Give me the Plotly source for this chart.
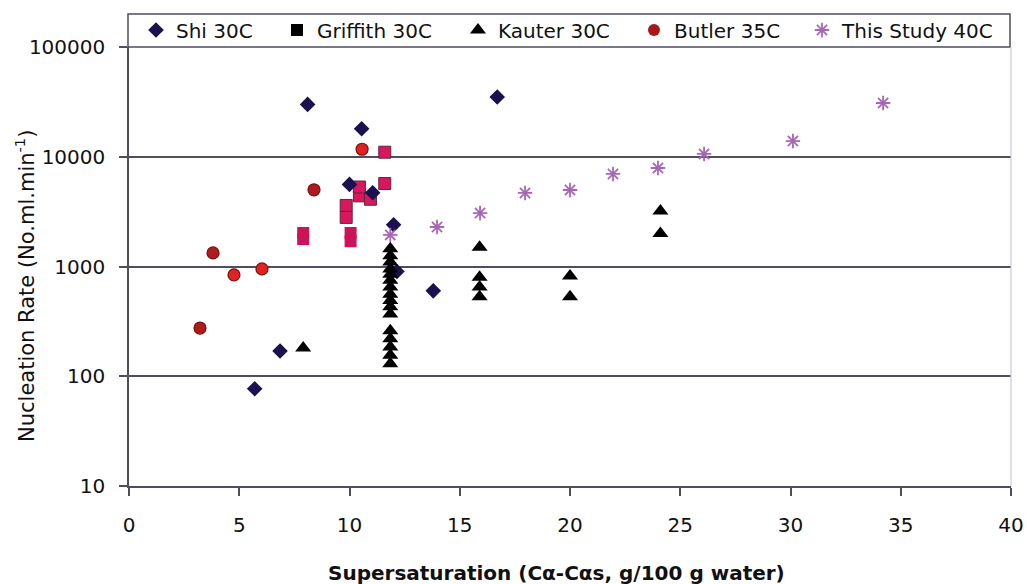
import plotly.graph_objects as go

# ---------------- data ----------------
shi_x = [5.7, 6.85, 8.1, 10.0, 10.55, 11.05, 12.0, 12.15, 13.8, 16.7]
shi_y = [77, 170, 30000, 5600, 18000, 4700, 2400, 900, 600, 35000]

griffith_x = [9.85, 9.85, 10.45, 10.45, 10.95, 11.6, 11.6]
griffith_y = [2800, 3600, 4400, 5300, 4100, 5700, 11000]
griffith2_x = [7.9, 7.9, 10.05, 10.05]
griffith2_y = [1780, 2020, 1700, 2020]

kauter_x = [7.9] + [11.85] * 16 + [15.9, 15.9, 15.9, 15.9, 20.0, 20.0, 24.1, 24.1]
kauter_y = [181, 1450, 1250, 1100, 950, 850, 750, 650, 560, 490, 430, 370, 260, 220, 185, 155, 130,
            1500, 800, 650, 530, 820, 530, 3200, 2000]

butler_x = [3.22, 3.81, 4.76, 6.03, 8.39, 10.57]
butler_y = [275, 1330, 840, 950, 5000, 11700]
butler_fill = ["#B01C1C", "#B01C1C", "#E02222", "#E02222", "#B01C1C", "#E02222"]

study_x = [11.85, 13.97, 15.92, 17.96, 20.0, 21.95, 23.99, 26.08, 30.11, 34.2]
study_y = [1940, 2290, 3070, 4680, 4980, 6970, 7900, 10600, 13900, 30900]

series_names = ["Shi 30C", "Griffith 30C", "Kauter 30C", "Butler 35C", "This Study 40C"]
x_ticks = [0, 5, 10, 15, 20, 25, 30, 35, 40]
y_ticks = [10, 100, 1000, 10000, 100000]

# ---------------- figure ----------------
FONT = "DejaVu Sans"
STUDY_COL = "#A866B8"
fig = go.Figure()

fig.add_trace(go.Scatter(x=griffith2_x, y=griffith2_y, mode="markers", showlegend=False,
                         marker=dict(symbol="square", size=12, color="#CC1258",
                                     line=dict(width=0))))
fig.add_trace(go.Scatter(x=griffith_x, y=griffith_y, mode="markers", showlegend=False,
                         marker=dict(symbol="square", size=12, color="#D8175E",
                                     line=dict(width=1, color="#5A2A3A"))))
fig.add_trace(go.Scatter(x=butler_x, y=butler_y, mode="markers", showlegend=False,
                         marker=dict(symbol="circle", size=12, color=butler_fill,
                                     line=dict(width=1.2, color="#7A1010"))))
fig.add_trace(go.Scatter(x=shi_x, y=shi_y, mode="markers", name=series_names[0],
                         legend="legend",
                         marker=dict(symbol="diamond", size=12, color="#1B1050",
                                     line=dict(width=0))))
fig.add_trace(go.Scatter(x=kauter_x, y=kauter_y, mode="markers", name=series_names[2],
                         legend="legend3",
                         marker=dict(symbol="triangle-up", size=14, color="#000000",
                                     line=dict(width=0))))
fig.add_trace(go.Scatter(x=study_x, y=study_y, mode="markers", name=series_names[4],
                         legend="legend5",
                         marker=dict(symbol="asterisk-open", size=12, color=STUDY_COL,
                                     line=dict(width=1.8, color=STUDY_COL))))
# legend entries whose legend marker differs from the plotted marker
fig.add_trace(go.Scatter(x=[None], y=[None], mode="markers", name=series_names[1],
                         legend="legend2",
                         marker=dict(symbol="square", size=12, color="#000000")))
fig.add_trace(go.Scatter(x=[None], y=[None], mode="markers", name=series_names[3],
                         legend="legend4",
                         marker=dict(symbol="circle", size=12, color="#A81818")))

W, H = 1027, 584
L, R, T, B = 129, 16, 47, 98
PW, PH = W - L - R, H - T - B


def px2x(px):
    return (px - L) / PW


def py2y(py):
    return (H - B - py) / PH


legend_common = dict(orientation="h", yanchor="middle", xanchor="left",
                     bgcolor="rgba(0,0,0,0)", borderwidth=0, itemwidth=30,
                     font=dict(family=FONT, size=20, color="#111111"))
marker_px = [156, 297, 478, 654, 822]
legend_keys = ["legend", "legend2", "legend3", "legend4", "legend5"]
legends = {}
for k, mp in zip(legend_keys, marker_px):
    legends[k] = dict(legend_common, x=px2x(mp - 20), y=py2y(30))

grid_col = "#4E4E5E"
fig.update_layout(
    width=W, height=H,
    margin=dict(l=L, r=R, t=T, b=B, autoexpand=False),
    paper_bgcolor="white", plot_bgcolor="white",
    font=dict(family=FONT, size=20, color="#111111"),
    xaxis=dict(range=[0, 40], tickvals=x_ticks, ticktext=[str(v) for v in x_ticks],
               showgrid=False, zeroline=False, showline=True, linecolor=grid_col,
               linewidth=1.5, ticks="outside", ticklen=8, tickcolor=grid_col,
               tickwidth=1.5, ticklabelstandoff=12,
               tickfont=dict(family=FONT, size=20, color="#111111")),
    yaxis=dict(type="log", range=[1, 5], tickvals=y_ticks,
               ticktext=[str(v) for v in y_ticks],
               showgrid=True, gridcolor=grid_col, gridwidth=1.5, zeroline=False,
               showline=True, linecolor=grid_col, linewidth=1.5,
               ticks="outside", ticklen=8, tickcolor=grid_col, tickwidth=1.5,
               ticklabelstandoff=10,
               tickfont=dict(family=FONT, size=20, color="#111111")),
    **legends,
)

# legend frame and faint right border
fig.add_shape(type="rect", xref="paper", yref="paper",
              x0=px2x(128), x1=px2x(1010), y0=py2y(47), y1=py2y(14),
              line=dict(color=grid_col, width=1.5), fillcolor="rgba(0,0,0,0)", layer="above")
fig.add_shape(type="line", xref="paper", yref="paper",
              x0=1, x1=1, y0=0, y1=1, line=dict(color="#C8CCD8", width=1.2))

fig.add_annotation(text="Nucleation Rate (No.ml.min<sup>-1</sup>)", textangle=-90,
                   xref="paper", yref="paper", x=px2x(25), y=py2y(286),
                   xanchor="center", yanchor="middle", showarrow=False,
                   font=dict(family=FONT, size=21, color="#111111"))
fig.add_annotation(text="<b>Supersaturation (Cα-Cαs, g/100 g water)</b>",
                   xref="paper", yref="paper", x=px2x(556), y=py2y(573),
                   xanchor="center", yanchor="middle", showarrow=False,
                   font=dict(family=FONT, size=20, color="#111111"))

fig.write_html(
    "out.html",
    config={"displayModeBar": False},
    post_script="document.body.style.margin='0';document.body.style.overflow='hidden';",
)
